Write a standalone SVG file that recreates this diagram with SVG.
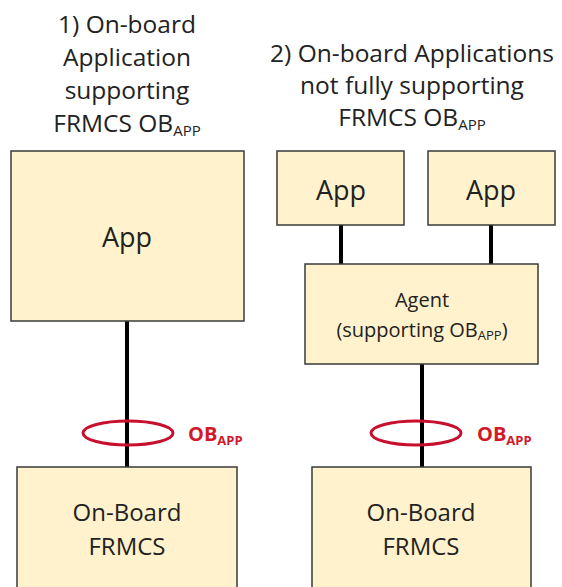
<svg xmlns="http://www.w3.org/2000/svg" width="562" height="587" viewBox="0 0 562 587">
<style>
.box{fill:#FFF2CC;stroke:#3a3a3a;stroke-width:1.5}
.t{font-family:"Open Sans","Noto Sans",sans-serif;fill:#222;text-anchor:middle}
.title{font-size:24.5px}
.big{font-size:27px}
.ob2{font-size:24px}
.mid{font-size:20px}
.ln{stroke:#000;stroke-width:4;fill:none}
.ring{fill:none;stroke:#C8102E;stroke-width:3}
.ob{font-family:"Open Sans","Noto Sans",sans-serif;font-weight:bold;fill:#D01A2A;font-size:20px}
</style>
<rect width="562" height="587" fill="#fff"/>
<g id="title1" class="t title">
<text x="127" y="33">1) On-board</text>
<text x="127" y="66">Application</text>
<text x="127" y="99">supporting</text>
<text x="127" y="132">FRMCS OB<tspan font-size="15" dy="4">APP</tspan></text>
</g>
<g id="title2" class="t title">
<text x="412" y="62">2) On-board Applications</text>
<text x="412" y="94">not fully supporting</text>
<text x="412" y="126">FRMCS OB<tspan font-size="15" dy="4">APP</tspan></text>
</g>
<g id="connectors">
<line class="ln" x1="127" y1="321" x2="127" y2="467"/>
<line class="ln" x1="341" y1="225" x2="341" y2="264"/>
<line class="ln" x1="491" y1="225" x2="491" y2="264"/>
<line class="ln" x1="422" y1="364" x2="422" y2="467"/>
</g>
<g id="app1"><rect class="box" x="11" y="151" width="233" height="170"/><text class="t big" x="127" y="247">App</text></g>
<g id="app2"><rect class="box" x="277" y="151" width="127" height="74"/><text class="t big" x="341" y="200">App</text></g>
<g id="app3"><rect class="box" x="428" y="151" width="127" height="74"/><text class="t big" x="491" y="200">App</text></g>
<g id="agent"><rect class="box" x="305" y="264" width="233" height="100"/><text class="t mid" x="422" y="307">Agent</text><text class="t mid" x="422" y="337">(supporting OB<tspan font-size="13" dy="3">APP</tspan><tspan dy="-3">)</tspan></text></g>
<g id="frmcs1"><rect class="box" x="17" y="467" width="220" height="140"/><text class="t ob2" x="127" y="521">On-Board</text><text class="t ob2" x="127" y="555">FRMCS</text></g>
<g id="frmcs2"><rect class="box" x="312" y="467" width="219" height="140"/><text class="t ob2" x="421" y="521">On-Board</text><text class="t ob2" x="421" y="555">FRMCS</text></g>
<g id="if1"><ellipse class="ring" cx="128" cy="433" rx="45" ry="12"/><text class="ob" x="188" y="441">OB<tspan font-size="13" dy="4">APP</tspan></text></g>
<g id="if2"><ellipse class="ring" cx="416" cy="433" rx="45" ry="12"/><text class="ob" x="477" y="441">OB<tspan font-size="13" dy="4">APP</tspan></text></g>
</svg>
